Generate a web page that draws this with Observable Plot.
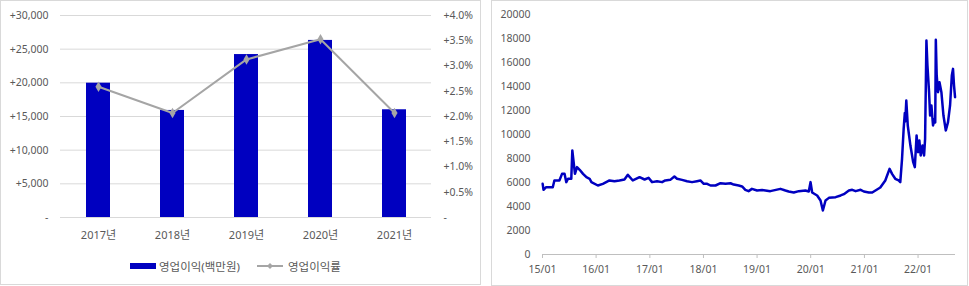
<!DOCTYPE html>
<html>
<head>
<meta charset="utf-8">
<script src="https://cdn.jsdelivr.net/npm/d3@7"></script>
<script src="https://cdn.jsdelivr.net/npm/@observablehq/plot@0.6"></script>
<style>
  body { margin: 0; background: #fff; font-family: "Noto Sans", "Noto Sans CJK KR", sans-serif; }
  .panel { position: absolute; top: 0; box-sizing: border-box; border: 1px solid #d9d9d9; background: #fff; overflow: hidden; }
  #left { left: 0; width: 481px; height: 285px; }
  #right { left: 491px; width: 477px; height: 286px; }
  .panel svg { display: block; }
  .legend { position: absolute; left: 129px; top: 257px; display: flex; align-items: center; font-size: 11.5px; color: #595959; white-space: nowrap; }
  .legend .bar-swatch { width: 26px; height: 6px; background: #0000c0; margin-right: 3px; }
  .legend .line-swatch { margin-left: 17px; margin-right: 5px; }
</style>
</head>
<body>
<div id="left" class="panel">
  <div id="profit-chart"></div>
  <div class="legend">
    <span class="bar-swatch"></span><span>영업이익(백만원)</span>
    <svg class="line-swatch" width="26" height="10" viewBox="0 0 26 10">
      <line x1="0" y1="5" x2="26" y2="5" stroke="#a5a5a5" stroke-width="2"></line>
      <path d="M13 2 L16 5 L13 8 L10 5 Z" fill="#a5a5a5"></path>
    </svg><span>영업이익률</span>
  </div>
</div>
<div id="right" class="panel">
  <div id="price-chart"></div>
</div>
<script>
// Annual operating profit (million KRW) and operating margin (%)
const years = ["2017년", "2018년", "2019년", "2020년", "2021년"];
const operatingProfit = [19950, 15900, 24200, 26300, 16000];
const operatingMargin = [2.59, 2.07, 3.13, 3.53, 2.07];

// Left axis ticks (profit) and right axis ticks (margin %)
const profitTicks = [0, 5000, 10000, 15000, 20000, 25000, 30000];
const marginTicks = [0, 0.5, 1.0, 1.5, 2.0, 2.5, 3.0, 3.5, 4.0];

// Share price history
const priceDates = [
  "2015-01-02","2015-01-08","2015-01-26","2015-03-12","2015-03-23","2015-04-26","2015-05-14","2015-05-31",
  "2015-06-12","2015-06-24","2015-07-16","2015-07-23","2015-08-01","2015-08-10","2015-08-24","2015-09-11",
  "2015-10-04","2015-10-27","2015-11-18","2015-11-30","2016-01-13","2016-02-16","2016-04-01","2016-05-05",
  "2016-06-08","2016-07-12","2016-08-04","2016-09-07","2016-10-23","2016-11-26","2016-12-23","2017-01-16",
  "2017-02-19","2017-03-25","2017-04-16","2017-05-20","2017-06-17","2017-07-05","2017-08-08","2017-09-11",
  "2017-10-15","2017-11-18","2017-12-11","2018-01-03","2018-01-26","2018-02-18","2018-03-24","2018-04-27",
  "2018-05-31","2018-07-04","2018-07-26","2018-08-29","2018-09-21","2018-10-13","2018-11-04","2018-11-27",
  "2019-01-01","2019-02-04","2019-04-01","2019-06-09","2019-07-13","2019-08-04","2019-09-08","2019-10-12",
  "2019-11-26","2019-12-19","2019-12-31","2020-01-11","2020-02-14","2020-03-08","2020-03-24","2020-04-11",
  "2020-05-04","2020-06-19","2020-07-23","2020-08-14","2020-09-17","2020-10-10","2020-11-02","2020-12-06",
  "2020-12-28","2021-01-31","2021-02-23","2021-04-19","2021-05-23","2021-06-21","2021-07-08","2021-07-30",
  "2021-08-22","2021-09-02","2021-09-14","2021-09-25","2021-10-03","2021-10-06","2021-10-13","2021-10-23",
  "2021-11-10","2021-11-29","2021-12-10","2021-12-22","2022-01-01","2022-01-10","2022-01-19","2022-01-31",
  "2022-02-11","2022-02-18","2022-02-27","2022-03-06","2022-03-17","2022-03-24","2022-04-02","2022-04-13",
  "2022-04-24","2022-04-28","2022-05-02","2022-05-08","2022-05-17","2022-05-27","2022-06-09","2022-06-23",
  "2022-07-09","2022-07-24","2022-08-07","2022-08-19","2022-08-27","2022-09-03","2022-09-10"
];
const priceValues = [
  5890, 5390, 5610, 5610, 6170, 6170, 6720, 6720,
  6030, 6310, 6310, 8670, 7690, 6720, 7280, 7060,
  6720, 6440, 6310, 6030, 5750, 5890, 6170, 6100,
  6170, 6250, 6640, 6170, 6440, 6250, 6390, 6030,
  6110, 6030, 6170, 6220, 6500, 6310, 6220, 6110,
  6030, 6110, 6170, 5890, 5890, 5750, 5750, 5940,
  5890, 5940, 5830, 5750, 5670, 5390, 5280, 5470,
  5330, 5380, 5280, 5470, 5330, 5250, 5170, 5280,
  5330, 5250, 6030, 5170, 4920, 4500, 3670, 4500,
  4720, 4780, 4920, 5030, 5330, 5390, 5280, 5390,
  5250, 5170, 5170, 5580, 6170, 7140, 6720, 6310,
  6170, 6030, 7970, 10470, 11800, 11080, 12830, 10750,
  9080, 7690, 7280, 9920, 8530, 9500, 8250, 9080,
  8250, 9640, 17830, 15750, 13530, 11580, 12420, 10750,
  11300, 11000, 17900, 14920, 13530, 14360, 13530, 11580,
  10330, 11030, 12420, 14920, 15470, 14080, 13110
];
const priceTicks = [0, 2000, 4000, 6000, 8000, 10000, 12000, 14000, 16000, 18000, 20000];
const yearStarts = ["2015-01-01","2016-01-01","2017-01-01","2018-01-01","2019-01-01","2020-01-01","2021-01-01","2022-01-01"];

const fontFamily = '"Noto Sans", "Noto Sans CJK KR", sans-serif';
const textColor = "#595959";
const blue = "#0000c0";

// ---- Operating profit bars with margin line on a secondary axis ----
const profitMax = 30000, marginMax = 4;
const marginToProfit = profitMax / marginMax;
const rows = years.map((year, i) => ({year, profit: operatingProfit[i], margin: operatingMargin[i]}));

const profitChart = Plot.plot({
  width: 479,
  height: 248,
  marginTop: 14,
  marginBottom: 32,
  marginLeft: 59,
  marginRight: 49,
  style: {fontFamily, fontSize: "10.5px", color: textColor, background: "transparent"},
  x: {domain: years, paddingInner: 0.68, paddingOuter: 0.34, label: null},
  y: {domain: [0, profitMax], label: null},
  marks: [
    Plot.gridY(profitTicks, {stroke: "#d9d9d9", strokeOpacity: 1}),
    Plot.barY(rows, {x: "year", y: "profit", fill: blue}),
    Plot.line(rows, {x: "year", y: (d) => d.margin * marginToProfit, stroke: "#a5a5a5", strokeWidth: 2}),
    Plot.dot(rows, {x: "year", y: (d) => d.margin * marginToProfit, symbol: "diamond", fill: "#a5a5a5", r: 3.2}),
    Plot.axisY(profitTicks, {
      anchor: "left", tickSize: 0, tickPadding: 12, label: null,
      tickFormat: (v) => v === 0 ? "-" : "+" + d3.format(",")(v)
    }),
    Plot.axisY(marginTicks.map((m) => m * marginToProfit), {
      anchor: "right", tickSize: 0, tickPadding: 12, label: null,
      tickFormat: (v) => v === 0 ? "-" : "+" + (v / marginToProfit).toFixed(1) + "%"
    }),
    Plot.axisX({tickSize: 0, tickPadding: 14, label: null, fontSize: 11})
  ]
});
document.getElementById("profit-chart").append(profitChart);

// ---- Share price line ----
const prices = priceDates.map((d, i) => ({date: new Date(d), price: priceValues[i]}));

const priceChart = Plot.plot({
  width: 475,
  height: 284,
  marginTop: 13,
  marginBottom: 31,
  marginLeft: 50,
  marginRight: 12,
  style: {fontFamily, fontSize: "10.5px", color: textColor, background: "transparent"},
  x: {type: "utc", domain: [new Date("2015-01-01"), new Date("2022-09-13")], label: null},
  y: {domain: [0, 20000], label: null},
  marks: [
    Plot.ruleY([0], {stroke: "#bfbfbf"}),
    Plot.line(prices, {x: "date", y: "price", stroke: blue, strokeWidth: 2.5, strokeLinejoin: "round"}),
    Plot.axisY(priceTicks, {tickSize: 0, tickPadding: 12, label: null, tickFormat: (v) => String(v)}),
    Plot.axisX(yearStarts.map((d) => new Date(d)), {
      tickSize: 4, tickPadding: 7, label: null, stroke: "#bfbfbf", fill: textColor,
      tickFormat: d3.utcFormat("%y/%m")
    })
  ]
});
document.getElementById("price-chart").append(priceChart);
</script>
</body>
</html>
